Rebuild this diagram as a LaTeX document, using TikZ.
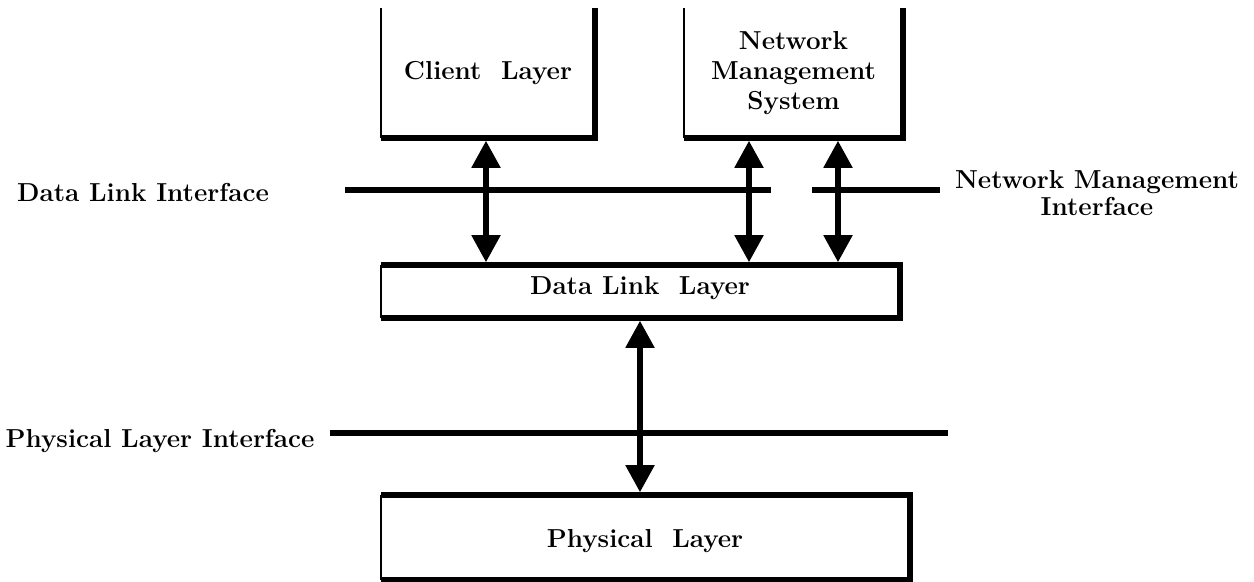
\documentclass[tikz,border=0pt]{standalone}
\usetikzlibrary{arrows.meta}
\begin{document}
\begin{tikzpicture}[x=0.5pt,y=-0.5pt,
  lbl/.style={font=\fontsize{13}{15}\selectfont\bfseries, inner sep=0pt, align=center},
  heavy/.style={line width=2.8pt},
  thinside/.style={line width=1.3pt},
  ifline/.style={line width=2.8pt},
  biarrow/.style={line width=2.6pt, {Triangle[width=14pt,length=13.5pt]}-{Triangle[width=14pt,length=13.5pt]}, shorten <=1.4pt, shorten >=1.4pt},
  area/.style={inner sep=0pt, outer sep=0pt, draw=none}
]
\useasboundingbox (0,0) rectangle (1254,582);

% boxes
\node[area, minimum width=107pt, minimum height=65pt] (client) at (488,73) {};
\node[area, minimum width=109.5pt, minimum height=65pt] (nms) at (793.5,73) {};
\node[area, minimum width=259.5pt, minimum height=26.5pt] (dll) at (640.5,291.5) {};
\node[area, minimum width=264.5pt, minimum height=42.5pt] (phys) at (645.5,537.5) {};

\draw[thinside] (client.north west) -- (client.south west);
\draw[heavy] (client.south west) -- (client.south east) -- (client.north east);
\draw[thinside] (nms.north west) -- (nms.south west);
\draw[heavy] (nms.south west) -- (nms.south east) -- (nms.north east);
\draw[heavy] (dll.south west) -- (dll.south east) -- (dll.north east) -- (dll.north west);
\draw[thinside] (dll.north west) -- (dll.south west);
\draw[heavy] (phys.south west) -- (phys.south east) -- (phys.north east) -- (phys.north west);
\draw[thinside] (phys.north west) -- (phys.south west);

% box texts
\node[lbl] (tclient) at (client.center) {Client\ \ Layer};
\node[lbl] (tnms) at (nms.center) {Network\\Management\\System};
\node[lbl] (tdll) at (640,288) {Data Link\ \ Layer};
\node[lbl] (tphys) at (645,541) {Physical\ \ Layer};

% interface lines
\coordinate (d1a) at (345,190);
\coordinate (d1b) at (771,190);
\coordinate (d2a) at (812,190);
\coordinate (d2b) at (940,190);
\coordinate (p1a) at (330,433);
\coordinate (p1b) at (948,433);
\draw[ifline] (d1a) -- (d1b);
\draw[ifline] (d2a) -- (d2b);
\draw[ifline] (p1a) -- (p1b);

% interface labels
\node[lbl] (ldli) at (143,192) {Data Link Interface};
\node[lbl, font=\fontsize{13}{13.5}\selectfont\bfseries] (lnmi) at (1097,193) {Network Management\\Interface};
\node[lbl] (lpli) at (160,441) {Physical Layer Interface};

% arrows
\coordinate (ax1) at (486,0);
\coordinate (ax2) at (749,0);
\coordinate (ax3) at (838,0);
\coordinate (ax4) at (640,0);
\draw[biarrow] (client.south -| ax1) -- (dll.north -| ax1);
\draw[biarrow] (nms.south -| ax2) -- (dll.north -| ax2);
\draw[biarrow] (nms.south -| ax3) -- (dll.north -| ax3);
\draw[biarrow] (dll.south -| ax4) -- (phys.north -| ax4);
\end{tikzpicture}
\end{document}
